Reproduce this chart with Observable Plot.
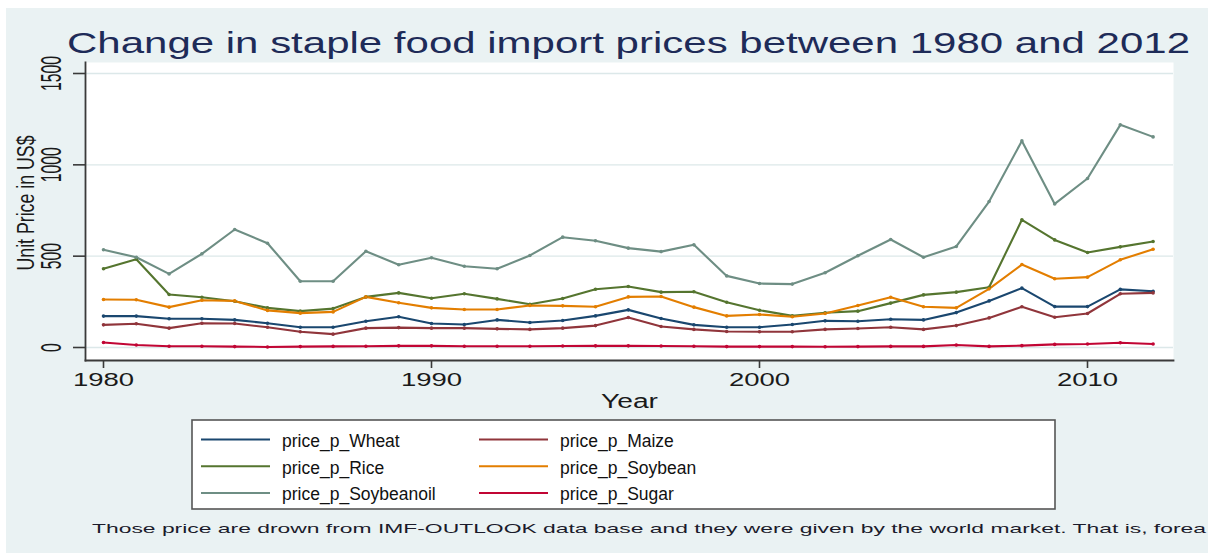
<!DOCTYPE html>
<html><head><meta charset="utf-8">
<script src="https://cdn.jsdelivr.net/npm/d3@7"></script>
<script src="https://cdn.jsdelivr.net/npm/@observablehq/plot@0.6"></script>
<style>
body{margin:0;background:#fff;}
#wrap{position:relative;width:1208px;height:553px;overflow:hidden;font-family:"Liberation Sans",Arial,Helvetica,sans-serif;}
#bg{position:absolute;left:6px;top:8px;right:0;bottom:0;background:#eaf2f3;}
#wrap svg{position:absolute;left:0;top:0;}
</style></head><body>
<div id="wrap"><div id="bg"></div></div>
<script>
const years = [1980,1981,1982,1983,1984,1985,1986,1987,1988,1989,1990,1991,1992,1993,1994,1995,1996,1997,1998,1999,2000,2001,2002,2003,2004,2005,2006,2007,2008,2009,2010,2011,2012];
const wheat      = [172,172,157,157,151,133,111,111,144,168,131,126,151,137,148,173,206,159,124,111,111,126,146,144,155,151,191,255,325,224,224,318,308];
const maize      = [124,130,106,133,131,111,86,73,106,109,106,106,102,99,106,120,164,115,99,88,86,86,99,104,111,99,120,162,223,166,186,294,299];
const rice       = [431,483,290,275,253,217,199,213,277,299,270,294,266,237,268,319,334,303,305,248,204,173,190,199,243,288,303,330,699,589,520,551,580];
const soybean    = [263,261,221,259,255,203,188,195,277,245,217,208,208,230,228,223,277,279,221,173,181,168,186,230,275,223,217,321,454,376,385,480,538];
const soybeanoil = [535,494,403,513,646,571,363,363,527,453,491,445,431,504,604,584,544,525,562,392,350,347,409,502,591,494,553,799,1131,786,925,1219,1153];
const sugar      = [27,14,7,7,5,3,5,6,7,9,9,7,7,7,8,9,9,8,7,5,5,5,4,5,6,6,14,6,10,17,19,26,19];

const seriesNames  = ["price_p_Wheat","price_p_Maize","price_p_Rice","price_p_Soybean","price_p_Soybeanoil","price_p_Sugar"];
const seriesColors = ["#1a476f","#90353b","#55752f","#e37e00","#6e8e84","#c10534"];
const seriesValues = [wheat, maize, rice, soybean, soybeanoil, sugar];
const xTicks = [1980,1990,2000,2010];
const yTicks = [0,500,1000,1500];
const titleText = "Change in staple food import prices between 1980 and 2012";
const xTitle = "Year";
const yTitle = "Unit Price in US$";
const captionText = "Those price are drown from IMF-OUTLOOK data base and they were given by the world market. That is, forea";

const rows = seriesNames.flatMap((name, k) => years.map((year, i) => ({series: name, year, value: seriesValues[k][i]})));

const font = '"Liberation Sans", Arial, Helvetica, sans-serif';
const axisColor = "#3a3a3a";

const plot = Plot.plot({
  width: 1208, height: 553,
  marginLeft: 85, marginRight: 35, marginTop: 62, marginBottom: 193,
  style: {background: "transparent", fontFamily: font, overflow: "visible"},
  x: {domain: [1980, 2012], range: [103, 1152.6]},
  y: {domain: [0, 1500], range: [347, 73]},
  color: {domain: seriesNames, range: seriesColors},
  marks: [
    Plot.frame({fill: "white", stroke: null}),
    Plot.gridY(yTicks, {stroke: "#dce8e9", strokeOpacity: 1, strokeWidth: 1.3}),
    Plot.frame({anchor: "left", stroke: axisColor, strokeWidth: 1.8}),
    Plot.frame({anchor: "bottom", stroke: axisColor, strokeWidth: 1.8}),
    Plot.axisX({ticks: xTicks, tickSize: 8, tickPadding: 4.5, fontSize: 18.6, tickFormat: d => String(d), stroke: axisColor, strokeWidth: 1.6, fill: "#1a1a1a", label: null}),
    Plot.axisY({ticks: yTicks, tickSize: 12, tickFormat: () => "", stroke: axisColor, strokeWidth: 1.6, label: null}),
    Plot.text(yTicks, {y: d => d, text: d => String(d), frameAnchor: "left", dx: -34, rotate: -90, textAnchor: "middle", lineAnchor: "middle", fontSize: 29, fill: "#1a1a1a"}),
    Plot.text([yTitle], {frameAnchor: "left", dx: -59, dy: -8.5, rotate: -90, textAnchor: "middle", lineAnchor: "middle", fontSize: 23.5, fill: "#1a1a1a"}),
    Plot.text([xTitle], {frameAnchor: "bottom", dy: 34, textAnchor: "middle", lineAnchor: "top", fontSize: 19.5, fill: "#1a1a1a"}),
    Plot.line(rows, {x: "year", y: "value", z: "series", stroke: "series", strokeWidth: 2.1}),
    Plot.dot(rows, {x: "year", y: "value", fill: "series", r: 1.8})
  ]
});
document.getElementById("wrap").appendChild(plot);

function fit(nodes, fn) {
  nodes.forEach(n => {
    const L = fn(n.textContent);
    if (L) { n.setAttribute("textLength", L); n.setAttribute("lengthAdjust", "spacingAndGlyphs"); }
  });
}
const textGroups = plot.querySelectorAll('g[aria-label="text"]'); // in mark order: y tick labels, y title, x title
fit(plot.querySelectorAll('g[aria-label="x-axis tick label"] text'), t => t.length * 15.3);
if (textGroups[0]) fit(textGroups[0].querySelectorAll("text"), t => t.length * 8.75);
if (textGroups[1]) fit(textGroups[1].querySelectorAll("text"), () => 135);
if (textGroups[2]) fit(textGroups[2].querySelectorAll("text"), () => 57);

// overlay: title, legend, caption
const ov = d3.select("#wrap").append("svg").attr("width", 1208).attr("height", 553).style("font-family", font);
ov.append("text").attr("x", 67).attr("y", 53.3).attr("font-size", 30).attr("fill", "#1e2b58")
  .attr("textLength", 1123).attr("lengthAdjust", "spacingAndGlyphs").text(titleText);

ov.append("rect").attr("x", 192).attr("y", 420).attr("width", 863).attr("height", 89)
  .attr("fill", "white").attr("stroke", "#555").attr("stroke-width", 1.6);
seriesNames.forEach((name, k) => {
  const col = k % 2, row = Math.floor(k / 2);
  const lx = [201, 479][col];
  const ly = 439.5 + row * 26.7;
  ov.append("line").attr("x1", lx).attr("x2", lx + 69).attr("y1", ly).attr("y2", ly)
    .attr("stroke", seriesColors[k]).attr("stroke-width", 2);
  ov.append("text").attr("x", [282, 560][col]).attr("y", 446.7 + row * 26.8)
    .attr("font-size", 17.5).attr("fill", "#111").text(name);
});
ov.append("text").attr("x", 92).attr("y", 532.5).attr("font-size", 13.5).attr("fill", "#1b1b2b")
  .attr("textLength", 1114).attr("lengthAdjust", "spacingAndGlyphs").text(captionText);
</script>
</body></html>
